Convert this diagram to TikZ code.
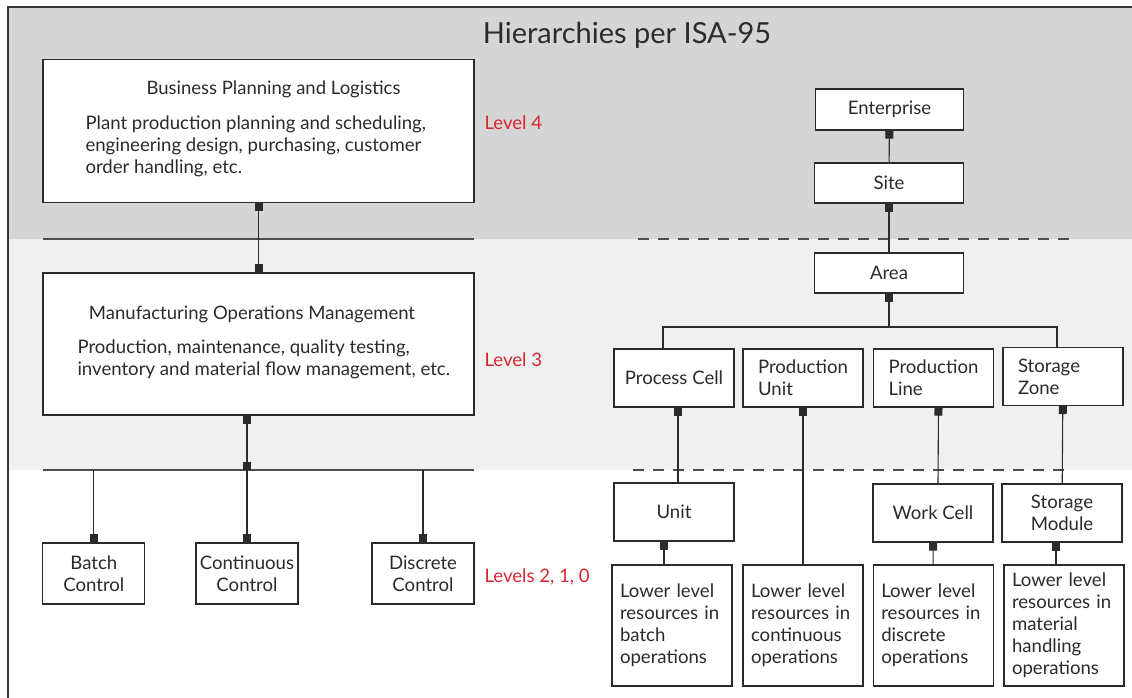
\documentclass[tikz,border=0pt]{standalone}
\usepackage{fontspec}
\setmainfont{Lato}
\usepackage{xcolor}
\usepackage{tikz}
\usetikzlibrary{arrows.meta,positioning,calc}
\definecolor{bandA}{HTML}{D5D5D5}
\definecolor{bandB}{HTML}{F0F0F0}
\definecolor{lvlred}{HTML}{D8262F}
\definecolor{ink}{HTML}{2B2B2B}

\begin{document}
\begin{tikzpicture}[
  x=1pt,y=-1pt,
  font=\fontsize{18.6}{22}\selectfont,
  every node/.style={text=ink},
  bigbox/.style={draw=ink,line width=1.3pt,fill=white,inner sep=0pt,
               minimum width=431pt,minimum height=143pt},
  unitbox/.style={draw=ink,line width=1.3pt,fill=white,inner sep=0pt,align=center,
               minimum width=120pt,minimum height=58pt},
  pairbox/.style={unitbox,text width=90pt,align=left},
  ctrlbox/.style={draw=ink,line width=1.3pt,fill=white,inner sep=0pt,align=center,
               minimum width=102pt,minimum height=61pt},
  lowbox/.style={draw=ink,line width=1.3pt,fill=white,inner sep=0pt,align=left,
               text width=104pt,minimum width=120pt,minimum height=121pt},
  headtxt/.style={font=\fontsize{18.5}{22}\selectfont},
  bodytxt/.style={align=left,anchor=west},
  lvl/.style={anchor=west,text=lvlred},
  link/.style={line width=1.1pt,draw=ink},
  tab/.style={link,{Square[length=8pt,width=8pt]}-},
  tabs/.style={link,{Square[length=8pt,width=8pt]}-{Square[length=8pt,width=8pt]}},
  tabend/.style={link,-{Square[length=8pt,width=8pt]}},
  sep/.style={line width=1.4pt,draw=black!70},
  dsep/.style={sep,dash pattern=on 11pt off 9pt}
]
\useasboundingbox (0,0) rectangle (1132,698);

% bands
\fill[bandA] (8,7) rectangle (1132,239);
\fill[bandB] (8,239) rectangle (1132,470);
\draw[line width=2pt,black!80] (8,698) -- (8,7) -- (1132,7);

\node[font=\fontsize{29}{33}\selectfont] (title) at (627,35) {Hierarchies per ISA-95};

% LEFT: functional levels
\node[bigbox] (bpl) at (258.5,130.8) {};
\node[headtxt] (bplh) at (273.5,89) {Business Planning and Logistics};
\node[bodytxt] (bpld) at (82,146) {Plant production planning and scheduling,\\
  engineering design, purchasing, customer\\order handling, etc.};

\node[bigbox,minimum height=142pt] (mom) at (258.5,343.9) {};
\node[headtxt] (momh) at (252,314) {Manufacturing Operations Management};
\node[bodytxt] (momd) at (74,359) {Production, maintenance, quality testing,\\
  inventory and material flow management, etc.};

\node[ctrlbox] (batch) at (93.8,573.5) {Batch\\Control};
\node[ctrlbox] (cont)  at (247,573.5)  {Continuous\\Control};
\node[ctrlbox] (disc)  at (423,573.5)  {Discrete\\Control};

\node[lvl] (lv4) at (481,123) {Level 4};
\node[lvl] (lv3) at (481,360) {Level 3};
\node[lvl] (lv2) at (481,577) {Levels 2, 1, 0};

\coordinate (sepL) at (43,239);  \coordinate (sepR) at (474,239);
\coordinate (busL) at (43,470);  \coordinate (busR) at (474,470);
\draw[sep] (sepL) -- (sepR);
\draw[sep] (busL) -- (busR);

\draw[tabs] (bpl) -- (mom);
\draw[tabs] (cont.north |- mom.south) -- (cont.north |- busL);
\draw[tabend] (batch.north |- busL) -- (batch.north);
\draw[tabend] (cont.north |- busL) -- (cont.north);
\draw[tabend] (disc.north |- busL) -- (disc.north);

% RIGHT: equipment hierarchy
\node[unitbox,minimum width=148pt,minimum height=41pt] (ent) at (889.5,109.5) {Enterprise};
\node[unitbox,minimum width=149pt,minimum height=40pt] (site) at (889,183) {Site};
\node[unitbox,minimum width=149pt,minimum height=40pt] (area) at (889,273) {Area};

\node[unitbox] (pc) at (674,378)    {Process Cell};
\node[pairbox] (pu) at (803,378)    {Production\\Unit};
\node[pairbox] (pl) at (933.5,378)  {Production\\Line};
\node[pairbox] (sz) at (1063,376.5) {Storage\\Zone};

\node[unitbox] (unit) at (674,512)  {Unit};
\node[unitbox] (wc)   at (933,513)  {Work Cell};
\node[unitbox] (sm)   at (1062,513) {Storage\\Module};

\node[lowbox] (low1) at (672,625.5)  {Lower level\\resources in\\batch\\operations};
\node[lowbox] (low2) at (803,625.5)  {Lower level\\resources in\\continuous\\operations\\[4pt]};
\node[lowbox] (low3) at (933.3,625.5) {Lower level\\resources in\\discrete\\operations};
\node[lowbox] (low4) at (1064,625.5) {Lower level\\resources in\\material\\handling\\operations};

\coordinate (dsepA) at (638,239);  \coordinate (dsepB) at (1069,239);
\coordinate (dsepC) at (633,470);  \coordinate (dsepD) at (1064,470);
\draw[dsep] (dsepA) -- (dsepB);
\draw[dsep] (dsepC) -- (dsepD);

\coordinate (abusL) at (663,327);  \coordinate (abusR) at (1057,327);
\draw[tab] (ent) -- (site);
\draw[tab] (site) -- (area);
\draw[tab] (area.south) -- (area.south |- abusL);
\draw[link] (abusL |- pc.north) -- (abusL) -- (abusR) -- (abusR |- sz.north);

\draw[tab] ([xshift=4pt]pc.south) -- ([xshift=4pt]unit.north);
\draw[tab] (pu) -- (low2);
\draw[tab] ([xshift=5pt]pl.south) -- ([xshift=5pt]wc.north);
\draw[tab] (sz) -- (sm);
\draw[tab] ([xshift=-10pt]unit.south) -- ([xshift=-10pt]unit.south |- low1.north);
\draw[tab] (wc) -- (low3);
\draw[tab] ([xshift=-6pt]sm.south) -- ([xshift=-6pt]sm.south |- low4.north);
\end{tikzpicture}
\end{document}
